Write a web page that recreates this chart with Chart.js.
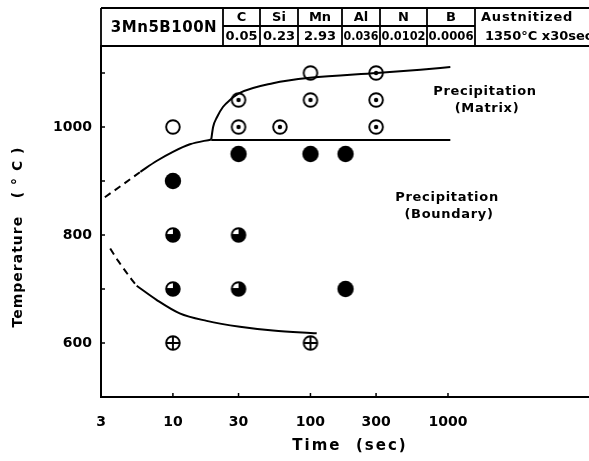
<!DOCTYPE html>
<html>
<head>
<meta charset="utf-8">
<script src="https://cdn.jsdelivr.net/npm/chart.js@4.4.1/dist/chart.umd.min.js"></script>
<style>
  html, body { margin: 0; padding: 0; background: #fff; }
  #wrap { width: 589px; height: 461px; }
</style>
</head>
<body>
<div id="wrap"><canvas id="ttp"></canvas></div>
<script>
// axis ticks
var timeTicks = [3, 10, 30, 100, 300, 1000];
var tempLabels = [600, 800, 1000];
var tempMinor = [600, 700, 800, 900, 1000, 1100];

// steel composition table
var steelName = '3Mn5B100N';
var elements = ['C', 'Si', 'Mn', 'Al', 'N', 'B'];
var contents = ['0.05', '0.23', '2.93', '0.036', '0.0102', '0.0006'];
var treatment = ['Austnitized', '1350\u00b0C x30sec'];

// observations [time sec, temperature C]
var noPrecip = [[10, 1000], [100, 1100]];
var matrixPrecip = [[30, 1050], [100, 1050], [300, 1050], [300, 1100], [30, 1000], [60, 1000], [300, 1000]];
var boundaryPrecip = [[30, 950], [100, 950], [180, 950], [10, 900], [180, 700]];
var partialPrecip = [[10, 800], [30, 800], [10, 700], [30, 700]];
var crossedPts = [[10, 600], [100, 600]];

// boundary curves
var matrixCurve = [[19, 977], [19.6, 1000], [20.9, 1018], [23.1, 1037], [26, 1050], [30.7, 1063], [53.4, 1081], [99, 1091], [303, 1100], [630, 1106], [1040, 1111]];
var matrixFloor = [[19, 976], [1040, 976]];
var upperNose = [[5.8, 917], [7.6, 937], [10, 954], [13.3, 968], [19, 977]];
var upperNoseDash = [[3.2, 870], [4.3, 893], [5.8, 917]];
var lowerNose = [[5.45, 706], [7.6, 680], [11.2, 655], [17.6, 641], [30.7, 630], [53.4, 623], [111, 618]];
var lowerNoseDash = [[3.5, 775], [4.0, 752], [5.0, 718], [5.45, 706]];

// region notes [time, temperature]
var notes = [
  { at: [1858, 1065], lines: ['Precipitation', '(Matrix)'] },
  { at: [984, 869], lines: ['Precipitation', '(Boundary)'] }
];

var FONT = '"DejaVu Sans", sans-serif';

function marker(kind) {
  var c = document.createElement('canvas');
  c.width = 20; c.height = 20;
  var g = c.getContext('2d');
  var cx = 10, cy = 10, r = 6.8;
  g.lineWidth = 1.9;
  g.strokeStyle = '#000';
  g.fillStyle = '#000';
  if (kind === 'filled') {
    g.beginPath(); g.arc(cx, cy, 8.2, 0, Math.PI * 2); g.fill();
    return c;
  }
  g.fillStyle = '#fff';
  g.beginPath(); g.arc(cx, cy, r, 0, Math.PI * 2); g.fill();
  g.fillStyle = '#000';
  if (kind === 'dot') {
    g.beginPath(); g.arc(cx, cy, 2.2, 0, Math.PI * 2); g.fill();
  } else if (kind === 'half') {
    g.beginPath(); g.moveTo(cx, cy); g.arc(cx, cy, r, -Math.PI / 2, Math.PI); g.closePath(); g.fill();
    g.beginPath(); g.moveTo(cx - r, cy); g.lineTo(cx + r, cy); g.stroke();
  } else if (kind === 'cross') {
    g.beginPath();
    g.moveTo(cx - r, cy); g.lineTo(cx + r, cy);
    g.moveTo(cx, cy - r); g.lineTo(cx, cy + r);
    g.stroke();
  }
  g.beginPath(); g.arc(cx, cy, r, 0, Math.PI * 2); g.stroke();
  return c;
}

function xy(list) {
  return list.map(function (p) { return { x: p[0], y: p[1] }; });
}

function curve(list, dashed) {
  return {
    type: 'line',
    data: xy(list),
    borderColor: '#000',
    borderWidth: 2,
    borderDash: dashed ? [7, 5] : [],
    pointRadius: 0,
    fill: false,
    cubicInterpolationMode: 'monotone'
  };
}

function points(list, kind) {
  return {
    type: 'scatter',
    data: xy(list),
    pointStyle: marker(kind),
    pointRadius: 8,
    showLine: false
  };
}

var decor = {
  id: 'decor',
  afterDraw: function (chart) {
    var ctx = chart.ctx;
    var area = chart.chartArea;
    var xs = chart.scales.x, ys = chart.scales.y;
    ctx.save();
    ctx.strokeStyle = '#000';
    ctx.fillStyle = '#000';

    // inward tick marks
    ctx.lineWidth = 1.5;
    ctx.beginPath();
    timeTicks.slice(1).forEach(function (v) {
      var px = xs.getPixelForValue(v);
      ctx.moveTo(px, area.bottom); ctx.lineTo(px, area.bottom - 4);
    });
    tempMinor.forEach(function (v) {
      var py = ys.getPixelForValue(v);
      ctx.moveTo(area.left, py); ctx.lineTo(area.left + 4, py);
    });
    ctx.stroke();

    // composition table
    var top = 8, mid = 26, bot = area.top;
    var cols = [223, 260, 298, 342, 380, 427, 475];
    ctx.lineWidth = 1.8;
    ctx.beginPath();
    ctx.moveTo(area.left, top); ctx.lineTo(chart.width, top);
    ctx.moveTo(area.left, bot); ctx.lineTo(chart.width, bot);
    ctx.moveTo(area.left, top); ctx.lineTo(area.left, bot);
    cols.forEach(function (cx) { ctx.moveTo(cx, top); ctx.lineTo(cx, bot); });
    ctx.moveTo(cols[0], mid); ctx.lineTo(cols[cols.length - 1], mid);
    ctx.stroke();

    ctx.textAlign = 'center';
    ctx.textBaseline = 'middle';
    ctx.font = 'bold 15px ' + FONT;
    ctx.letterSpacing = '0.5px';
    ctx.fillText(steelName, (area.left + cols[0]) / 2 + 2, (top + bot) / 2 + 1);
    ctx.letterSpacing = '0px';
    for (var i = 0; i < elements.length; i++) {
      var cx = (cols[i] + cols[i + 1]) / 2;
      ctx.font = 'bold 13px ' + FONT;
      ctx.fillText(elements[i], cx, (top + mid) / 2 + 1);
      ctx.font = 'bold 13px ' + FONT;
      ctx.fillText(contents[i], cx, (mid + bot) / 2 + 1, cols[i + 1] - cols[i] - 3);
    }
    ctx.textAlign = 'left';
    ctx.font = 'bold 13px ' + FONT;
    ctx.letterSpacing = '0.8px';
    ctx.fillText(treatment[0], cols[6] + 6, (top + mid) / 2 + 1);
    ctx.letterSpacing = '0px';
    ctx.font = 'bold 13px ' + FONT;
    ctx.fillText(treatment[1], cols[6] + 10, (mid + bot) / 2 + 1);

    // region notes
    ctx.textAlign = 'center';
    ctx.font = 'bold 13px ' + FONT;
    ctx.letterSpacing = '0.7px';
    notes.forEach(function (n) {
      var px = xs.getPixelForValue(n.at[0]);
      var py = ys.getPixelForValue(n.at[1]);
      ctx.fillText(n.lines[0], px, py);
      ctx.fillText(n.lines[1], px + 2, py + 17);
    });

    // axis titles
    ctx.font = 'bold 15px ' + FONT;
    ctx.letterSpacing = '2px';
    ctx.fillText('Time  (sec)', (area.left + area.right) / 2 + 5, 446);
    ctx.save();
    ctx.translate(18, 237);
    ctx.rotate(-Math.PI / 2);
    ctx.font = 'bold 14px ' + FONT;
    ctx.letterSpacing = '1px';
    ctx.fillText('Temperature   ( \u00b0 C )', 0, 0);
    ctx.restore();

    ctx.restore();
  }
};

new Chart(document.getElementById('ttp'), {
  data: {
    datasets: [
      curve(matrixCurve, false),
      curve(matrixFloor, false),
      curve(upperNose, false),
      curve(upperNoseDash, true),
      curve(lowerNose, false),
      curve(lowerNoseDash, true),
      points(noPrecip, 'open'),
      points(matrixPrecip, 'dot'),
      points(boundaryPrecip, 'filled'),
      points(partialPrecip, 'half'),
      points(crossedPts, 'cross')
    ]
  },
  options: {
    responsive: true,
    maintainAspectRatio: false,
    animation: false,
    events: [],
    layout: { autoPadding: false, padding: { top: 46, right: 0, left: 0, bottom: 0 } },
    plugins: {
      legend: { display: false },
      tooltip: { enabled: false }
    },
    scales: {
      x: {
        type: 'logarithmic',
        position: 'bottom',
        min: 3,
        max: 10600,
        grid: { display: false, drawTicks: false },
        border: { display: true, color: '#000', width: 2 },
        ticks: {
          color: '#000',
          font: { family: FONT, size: 14, weight: 'bold' },
          padding: 17,
          maxRotation: 0,
          autoSkip: false,
          callback: function (v) { return String(v); }
        },
        afterBuildTicks: function (s) { s.ticks = timeTicks.map(function (v) { return { value: v }; }); },
        afterFit: function (s) { s.height = 64; }
      },
      y: {
        type: 'linear',
        position: 'left',
        min: 500,
        max: 1150,
        grid: { display: false, drawTicks: false },
        border: { display: true, color: '#000', width: 2 },
        ticks: {
          color: '#000',
          font: { family: FONT, size: 14, weight: 'bold' },
          padding: 9,
          callback: function (v) { return String(v); }
        },
        afterBuildTicks: function (s) { s.ticks = tempLabels.map(function (v) { return { value: v }; }); },
        afterFit: function (s) { s.width = 101; }
      }
    }
  },
  plugins: [decor]
});
</script>
</body>
</html>
